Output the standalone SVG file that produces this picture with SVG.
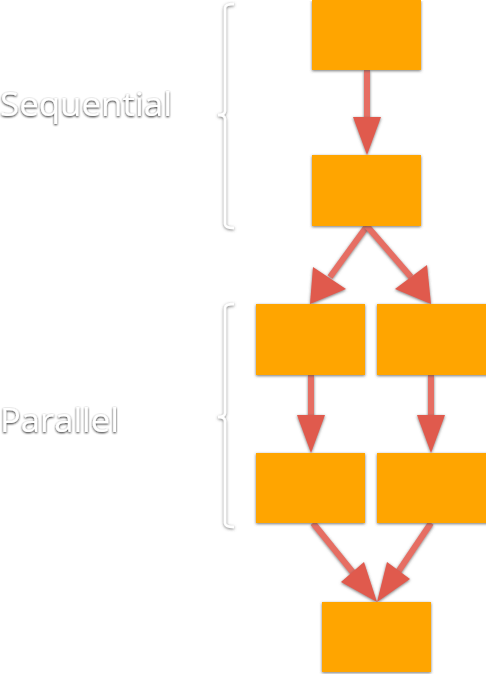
<svg xmlns="http://www.w3.org/2000/svg" width="486" height="674" viewBox="0 0 486 674">
<defs>
<filter id="sh" filterUnits="userSpaceOnUse" x="0" y="0" width="486" height="674">
<feGaussianBlur in="SourceAlpha" stdDeviation="1.5"/>
<feOffset dx="0" dy="1" result="b"/>
<feFlood flood-color="#555" flood-opacity="0.8"/>
<feComposite in2="b" operator="in"/>
<feMerge><feMergeNode/><feMergeNode in="SourceGraphic"/></feMerge>
</filter>
<filter id="tsh" filterUnits="userSpaceOnUse" x="0" y="0" width="486" height="674">
<feGaussianBlur in="SourceAlpha" stdDeviation="1.3"/>
<feOffset dx="0" dy="1" result="b"/>
<feFlood flood-color="#222" flood-opacity="1"/>
<feComposite in2="b" operator="in"/>
<feMerge><feMergeNode/><feMergeNode in="SourceGraphic"/></feMerge>
</filter>
<style>
.box{fill:#FFA500;filter:url(#sh)}
.arr{stroke:#E66E64;stroke-width:6;fill:none;filter:url(#sh)}
.head{fill:#E05A4E;filter:url(#sh)}
.br{fill:none;stroke:#fff;stroke-width:2.5;filter:url(#sh)}
.lbl{font-family:"Open Sans",Lato,sans-serif;font-size:32px;fill:#fff;filter:url(#tsh)}
</style>
</defs>
<g id="labels">
<text class="lbl" x="0" y="116" textLength="172" lengthAdjust="spacingAndGlyphs">Sequential</text>
<text class="lbl" x="0" y="432" textLength="119" lengthAdjust="spacingAndGlyphs">Parallel</text>
</g>
<g id="brackets">
<path class="br" d="M234,4 Q225,4 225,8 L225,111 Q225,115 218,115 Q225,115 225,119 L225,224 Q225,228 234,228"/>
<path class="br" d="M234,304 Q225,304 225,308 L225,413 Q225,417 218,417 Q225,417 225,421 L225,523 Q225,527 234,527"/>
</g>
<g id="connectors">
<line class="arr" x1="367" y1="70" x2="367" y2="120"/>
<path class="head" d="M353,117 L381,117 L367,155 Z"/>
<line class="arr" x1="367" y1="226" x2="330" y2="277"/>
<path class="head" d="M313,267 L346,289 L310,304 Z"/>
<line class="arr" x1="367" y1="226" x2="411" y2="277"/>
<path class="head" d="M395,289 L427,265 L431,304 Z"/>
<line class="arr" x1="311" y1="375" x2="311" y2="418"/>
<path class="head" d="M297,415 L325,415 L311,453 Z"/>
<line class="arr" x1="431" y1="375" x2="431" y2="418"/>
<path class="head" d="M417,415 L445,415 L431,453 Z"/>
<line class="arr" x1="313" y1="523" x2="355" y2="575"/>
<path class="head" d="M341,582 L364,562 L377,602 Z"/>
<line class="arr" x1="431" y1="523" x2="396" y2="575"/>
<path class="head" d="M387,562 L410,579 L377,602 Z"/>
</g>
<g id="n1"><rect class="box" x="312" y="0" width="109" height="70"/></g>
<g id="n2"><rect class="box" x="312" y="155" width="109" height="71"/></g>
<g id="n3"><rect class="box" x="256" y="304" width="109" height="71"/></g>
<g id="n4"><rect class="box" x="377" y="304" width="112" height="71"/></g>
<g id="n5"><rect class="box" x="256" y="453" width="109" height="70"/></g>
<g id="n6"><rect class="box" x="377" y="453" width="112" height="70"/></g>
<g id="n7"><rect class="box" x="322" y="602" width="109" height="70"/></g>
</svg>
